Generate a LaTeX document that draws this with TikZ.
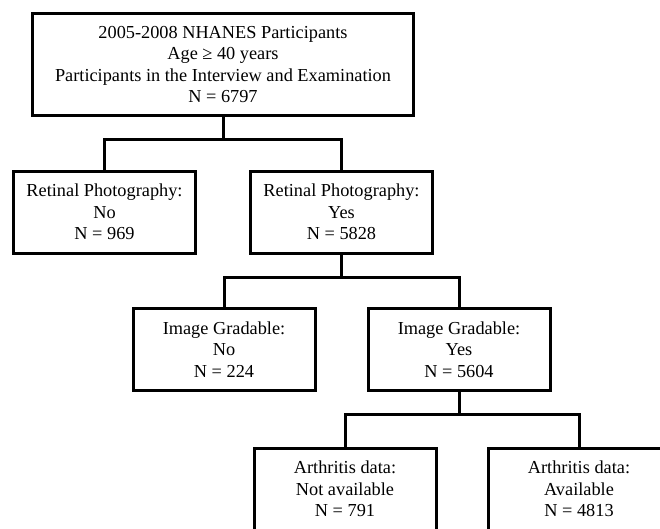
\documentclass[tikz,border=0pt]{standalone}
\usepackage{fontspec}
\setmainfont{Liberation Serif}
\usetikzlibrary{positioning}
\tikzset{mybox/.style={
  shape=rectangle,
  draw=black,
  line width=3pt,
  minimum width=182pt,
  minimum height=82pt,
  align=center,
  font=\fontsize{18.3}{21.5}\selectfont,
  text = black,
  }
}
\tikzset{mylink/.style={
  draw=black,
  line width=3pt,
  }
}

\begin{document}
\begin{tikzpicture}[]
  \useasboundingbox (0pt,0pt) rectangle (660pt,-528pt);
  \clip (0pt,0pt) rectangle (660pt,-528pt);

  \node [mybox, minimum width=381pt, minimum height=102pt] (m1) at (223pt,-64.5pt)
    {2005-2008 NHANES Participants\\ Age ≥ 40 years\\ Participants in the Interview and Examination\\ N = 6797};

  \node [mybox] (r1) at (104.5pt,-212pt) {Retinal Photography:\\ No\\ N = 969};
  \node [mybox, right = 52pt of r1] (r2) {Retinal Photography:\\ Yes\\ N = 5828};

  \node [mybox] (g1) at (224pt,-349.5pt) {Image Gradable:\\ No\\ N = 224};
  \node [mybox, right = 50pt of g1] (g2) {Image Gradable:\\ Yes\\ N = 5604};

  \node [mybox] (a1) at (345pt,-489pt) {Arthritis data:\\ Not available\\ N = 791};
  \node [mybox, right = 49pt of a1] (a2) {Arthritis data:\\ Available\\ N = 4813};

  \draw [mylink] (m1.south) -- ++(0,-22pt) coordinate (j1);
  \draw [mylink] (r1.north) |- (j1) -| (r2.north);

  \draw [mylink] (r2.south) -- ++(0,-23pt) coordinate (j2);
  \draw [mylink] (g1.north) |- (j2) -| (g2.north);

  \draw [mylink] (g2.south) -- ++(0,-22pt) coordinate (j3);
  \draw [mylink] (a1.north) |- (j3) -| (a2.north);
\end{tikzpicture}
\end{document}
